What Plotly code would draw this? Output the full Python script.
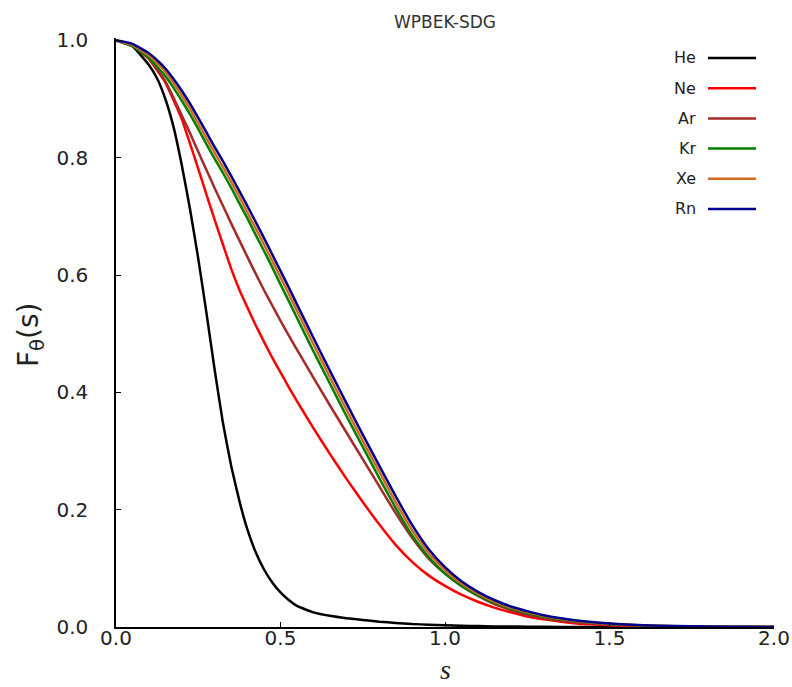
import plotly.graph_objects as go

# reduced gradient grid
s = [0.0, 0.05, 0.10, 0.125, 0.15, 0.175, 0.20, 0.225, 0.25, 0.275, 0.30, 0.325,
     0.35, 0.375, 0.40, 0.425, 0.45, 0.475, 0.50, 0.525, 0.55, 0.60, 0.65, 0.70,
     0.75, 0.80, 0.85, 0.90, 0.95, 1.00, 1.05, 1.10, 1.15, 1.20, 1.25, 1.30,
     1.40, 1.50, 1.60, 1.70, 1.80, 1.90, 2.00]

F_He = [1.0, 0.990, 0.958, 0.935, 0.900, 0.852, 0.787, 0.712, 0.628, 0.535, 0.438, 0.348,
        0.275, 0.215, 0.165, 0.127, 0.098, 0.076, 0.059, 0.046, 0.036, 0.025, 0.019, 0.015,
        0.012, 0.009, 0.007, 0.005, 0.004, 0.003, 0.002, 0.0015, 0.001, 0.0008, 0.0005, 0.0003,
        0.0001, 0.0, 0.0, 0.0, 0.0, 0.0, 0.0]

F_Ne = [1.0, 0.992, 0.968, 0.949, 0.928, 0.898, 0.866, 0.824, 0.781, 0.737, 0.694, 0.652,
        0.611, 0.575, 0.544, 0.514, 0.486, 0.459, 0.434, 0.409, 0.385, 0.339, 0.295, 0.253,
        0.213, 0.175, 0.140, 0.111, 0.088, 0.070, 0.055, 0.043, 0.033, 0.025, 0.018, 0.013,
        0.006, 0.003, 0.0014, 0.0006, 0.0003, 0.0001, 0.0]

F_Ar = [1.0, 0.992, 0.970, 0.951, 0.930, 0.902, 0.872, 0.842, 0.810, 0.779, 0.748, 0.718,
        0.688, 0.659, 0.630, 0.602, 0.574, 0.548, 0.522, 0.497, 0.473, 0.425, 0.378, 0.332,
        0.286, 0.240, 0.194, 0.152, 0.117, 0.091, 0.070, 0.053, 0.039, 0.029, 0.021, 0.015,
        0.008, 0.004, 0.002, 0.001, 0.0005, 0.0002, 0.0001]

F_Kr = [1.0, 0.990, 0.970, 0.955, 0.939, 0.919, 0.897, 0.874, 0.849, 0.823, 0.798, 0.774,
        0.749, 0.722, 0.696, 0.668, 0.641, 0.613, 0.584, 0.556, 0.527, 0.470, 0.415, 0.360,
        0.307, 0.254, 0.203, 0.156, 0.119, 0.091, 0.070, 0.054, 0.041, 0.031, 0.024, 0.0176,
        0.0096, 0.005, 0.0026, 0.0013, 0.0006, 0.0003, 0.0001]

F_Xe = [1.0, 0.992, 0.974, 0.961, 0.946, 0.927, 0.906, 0.883, 0.858, 0.833, 0.808, 0.784,
        0.759, 0.733, 0.706, 0.679, 0.652, 0.624, 0.596, 0.568, 0.539, 0.482, 0.426, 0.371,
        0.317, 0.265, 0.213, 0.165, 0.126, 0.097, 0.074, 0.057, 0.0435, 0.033, 0.0255, 0.0188,
        0.0103, 0.0054, 0.0028, 0.0014, 0.00065, 0.0003, 0.0001]

F_Rn = [1.0, 0.994, 0.978, 0.966, 0.952, 0.934, 0.914, 0.892, 0.868, 0.843, 0.818, 0.794,
        0.769, 0.743, 0.717, 0.690, 0.663, 0.635, 0.607, 0.579, 0.550, 0.493, 0.437, 0.382,
        0.328, 0.275, 0.223, 0.174, 0.133, 0.102, 0.078, 0.060, 0.046, 0.035, 0.027, 0.020,
        0.011, 0.0058, 0.003, 0.0015, 0.0007, 0.0003, 0.0001]

atoms = ["He", "Ne", "Ar", "Kr", "Xe", "Rn"]
series = [F_He, F_Ne, F_Ar, F_Kr, F_Xe, F_Rn]
colors = ["#000000", "#ff0000", "#a52a2a", "#008000", "#d2691e", "#00008b"]

x_ticks = [0.0, 0.5, 1.0, 1.5, 2.0]
y_ticks = [0.0, 0.2, 0.4, 0.6, 0.8, 1.0]

W, H = 792, 687
ML, MR, MT, MB = 116, 18, 38, 60
plot_w = W - ML - MR
plot_h = H - MT - MB
y_top = 1.004

fig = go.Figure()
for name, F, c in zip(atoms, series, colors):
    fig.add_trace(go.Scatter(
        x=s, y=F, mode="lines", name=name, showlegend=False,
        line=dict(color=c, width=2.5, shape="spline", smoothing=0.4),
    ))


def px_to_paper_x(px):
    return (px - ML) / plot_w


def px_to_paper_y(py):
    return (H - MB - py) / plot_h


# hand-built legend: label on the left, line sample on the right
shapes = []
annotations = []
for i, (name, c) in enumerate(zip(atoms, colors)):
    yy = px_to_paper_y(58 + 30.2 * i)
    shapes.append(dict(type="line", xref="paper", yref="paper",
                       x0=px_to_paper_x(708), x1=px_to_paper_x(756), y0=yy, y1=yy,
                       line=dict(color=c, width=2.5)))
    annotations.append(dict(text=name, xref="paper", yref="paper",
                            x=px_to_paper_x(698), y=yy, xanchor="right", yanchor="middle",
                            showarrow=False,
                            font=dict(family="DejaVu Sans", size=16, color="#222222")))

# axis titles
annotations.append(dict(text="F<sub>θ</sub>(s)", xref="paper", yref="paper",
                        x=px_to_paper_x(30), y=px_to_paper_y(335), textangle=-90,
                        xanchor="center", yanchor="middle", showarrow=False,
                        font=dict(family="DejaVu Sans", size=28, color="#222222")))
annotations.append(dict(text="<i>s</i>", xref="paper", yref="paper",
                        x=0.5, y=px_to_paper_y(669), xanchor="center", yanchor="middle",
                        showarrow=False,
                        font=dict(family="Liberation Serif, Times New Roman, serif",
                                  size=28, color="#222222")))

axis_common = dict(
    showgrid=False, zeroline=False, showline=True, linecolor="black", linewidth=1.5,
    ticks="inside", ticklen=5, tickwidth=1.2, tickcolor="black",
    tickfont=dict(family="DejaVu Sans", size=20, color="#222222"),
    tickformat=".1f", mirror=False, automargin=False,
)

fig.update_layout(
    width=W, height=H,
    margin=dict(l=ML, r=MR, t=MT, b=MB, autoexpand=False),
    paper_bgcolor="white", plot_bgcolor="white",
    title=dict(text="WPBEK-SDG", x=(ML + plot_w / 2) / W, xanchor="center",
               y=1 - 22 / H, yanchor="middle",
               font=dict(family="DejaVu Sans", size=17, color="#333333")),
    xaxis=dict(range=[0, 2.0], tickvals=x_ticks, ticklabelstandoff=-8, **axis_common),
    yaxis=dict(range=[0, y_top], tickvals=y_ticks, ticklabelstandoff=22, **axis_common),
    shapes=shapes, annotations=annotations,
)

fig.write_html("out.html")
